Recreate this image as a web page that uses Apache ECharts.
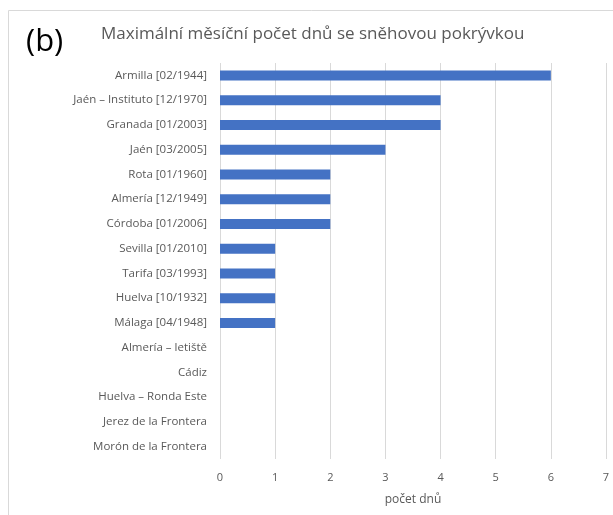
<!DOCTYPE html>
<html>
<head>
<meta charset="utf-8">
<script src="https://cdn.jsdelivr.net/npm/echarts@6/dist/echarts.min.js"></script>
<style>
  html, body { margin: 0; padding: 0; background: #fff; }
  #chart { width: 613px; height: 515px; }
</style>
</head>
<body>
<div id="chart"></div>
<script>
// stanice (shora dolu)
var stations = [
  'Armilla [02/1944]',
  'Jaén – Instituto [12/1970]',
  'Granada [01/2003]',
  'Jaén [03/2005]',
  'Rota [01/1960]',
  'Almería [12/1949]',
  'Córdoba [01/2006]',
  'Sevilla [01/2010]',
  'Tarifa [03/1993]',
  'Huelva [10/1932]',
  'Málaga [04/1948]',
  'Almería – letiště',
  'Cádiz',
  'Huelva – Ronda Este',
  'Jerez de la Frontera',
  'Morón de la Frontera'
];
var days = [6, 4, 4, 3, 2, 2, 2, 1, 1, 1, 1, 0, 0, 0, 0, 0];
var xTicks = [0, 1, 2, 3, 4, 5, 6, 7];

var chart = echarts.init(document.getElementById('chart'));
chart.setOption({
  animation: false,
  textStyle: { fontFamily: 'Open Sans' },
  graphic: [
    {
      type: 'rect',
      shape: { x: 8.5, y: 10.5, width: 640, height: 540 },
      style: { fill: 'none', stroke: '#d9d9d9', lineWidth: 1 }
    },
    {
      type: 'text',
      left: 26,
      top: 27,
      style: { text: '(b)', fontSize: 31, fill: '#000', fontFamily: 'Open Sans' }
    }
  ],
  title: {
    text: 'Maximální měsíční počet dnů se sněhovou pokrývkou',
    left: 96,
    top: 21,
    textStyle: { fontSize: 17, fontWeight: 'normal', color: '#595959', fontFamily: 'Open Sans' }
  },
  grid: { left: 220, right: 7, top: 63, bottom: 56, containLabel: false },
  xAxis: {
    type: 'value',
    min: xTicks[0],
    max: xTicks[xTicks.length - 1],
    interval: 1,
    name: 'počet dnů',
    nameLocation: 'middle',
    nameGap: 35,
    nameTextStyle: { color: '#595959', fontSize: 12 },
    axisLine: { show: false },
    axisTick: { show: false },
    axisLabel: { color: '#595959', fontSize: 11, margin: 13 },
    splitLine: { lineStyle: { color: '#d9d9d9', width: 1 } }
  },
  yAxis: {
    type: 'category',
    data: stations,
    inverse: true,
    axisLine: { show: false },
    axisTick: { show: false },
    axisLabel: { color: '#595959', fontSize: 11.5, margin: 13, interval: 0 }
  },
  series: [{
    type: 'bar',
    data: days,
    barWidth: 10,
    itemStyle: { color: '#4472c4' }
  }]
});
</script>
</body>
</html>
